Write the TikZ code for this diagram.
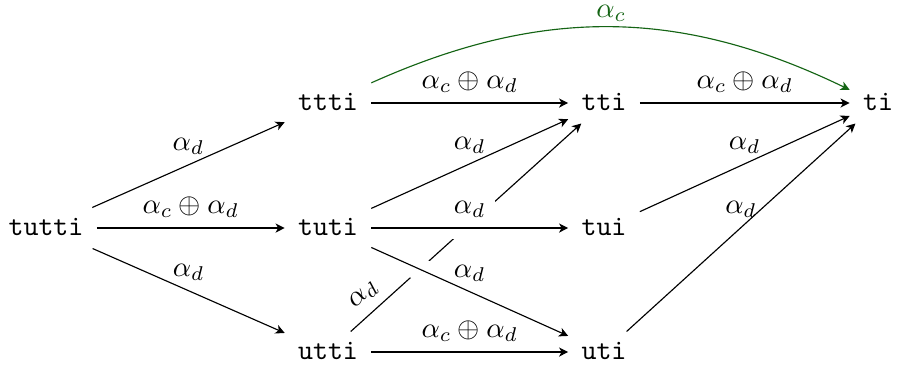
\documentclass[tikz,border=0pt]{standalone}
\usepackage{amsmath}
\usepackage{amssymb}
\usetikzlibrary{arrows.meta, positioning}

\definecolor{arcgreen}{RGB}{20,100,20}

\begin{document}
\begin{tikzpicture}[
    x=0.351pt, y=-0.351pt,
    word/.style={font=\ttfamily, inner xsep=4.5pt, inner ysep=3pt, text height=6.5pt, text depth=1.5pt},
    arrow/.style={-{Stealth[length=3.2pt, width=3.2pt, inset=0.9pt]}},
    lbl/.style={above},
    cross/.style={preaction={draw=white, -, line width=8pt}}
]
\useasboundingbox (0,0) rectangle (898,366);

% Words
\node[word] (tutti) at (46,228) {tutti};
\node[word] (ttti) at (328,103) {ttti};
\node[word] (tuti) at (328,228) {tuti};
\node[word] (utti) at (328,352) {utti};
\node[word] (tti) at (604,103) {tti};
\node[word] (tui) at (604,228) {tui};
\node[word] (uti) at (604,352) {uti};
\node[word] (ti) at (878,103) {ti};

% Plain arrows
\draw[arrow] (tutti) -- node[lbl] {$\alpha_d$} (ttti);
\draw[arrow] (tutti) -- node[lbl] {$\alpha_c \oplus \alpha_d$} (tuti);
\draw[arrow] (tutti) -- node[lbl] {$\alpha_d$} (utti);
\draw[arrow] (ttti) -- node[lbl] {$\alpha_c \oplus \alpha_d$} (tti);
\draw[arrow] (tuti) -- node[lbl] {$\alpha_d$} (tti);
\draw[arrow] (utti) -- node[lbl] {$\alpha_c \oplus \alpha_d$} (uti);
\draw[arrow] (tti) -- node[lbl] {$\alpha_c \oplus \alpha_d$} (ti);
\draw[arrow] (tui) -- node[lbl] {$\alpha_d$} (ti);
\draw[arrow] (uti) -- node[lbl] {$\alpha_d$} (ti);

% Long arc
\draw[arrow, arcgreen] (ttti) to[bend left=25] node[lbl, inner ysep=1.8pt] {$\alpha_c$} (ti);

% Crossing arrows
\draw[arrow] (utti) -- node[lbl, sloped, pos=0.11] {$\alpha_d$} (tti);
\draw[arrow, cross] (tuti) -- node[lbl] {$\alpha_d$} (uti);
\draw[arrow, cross] (tuti) -- node[lbl, fill=white] {$\alpha_d$} (tui);

\end{tikzpicture}
\end{document}
